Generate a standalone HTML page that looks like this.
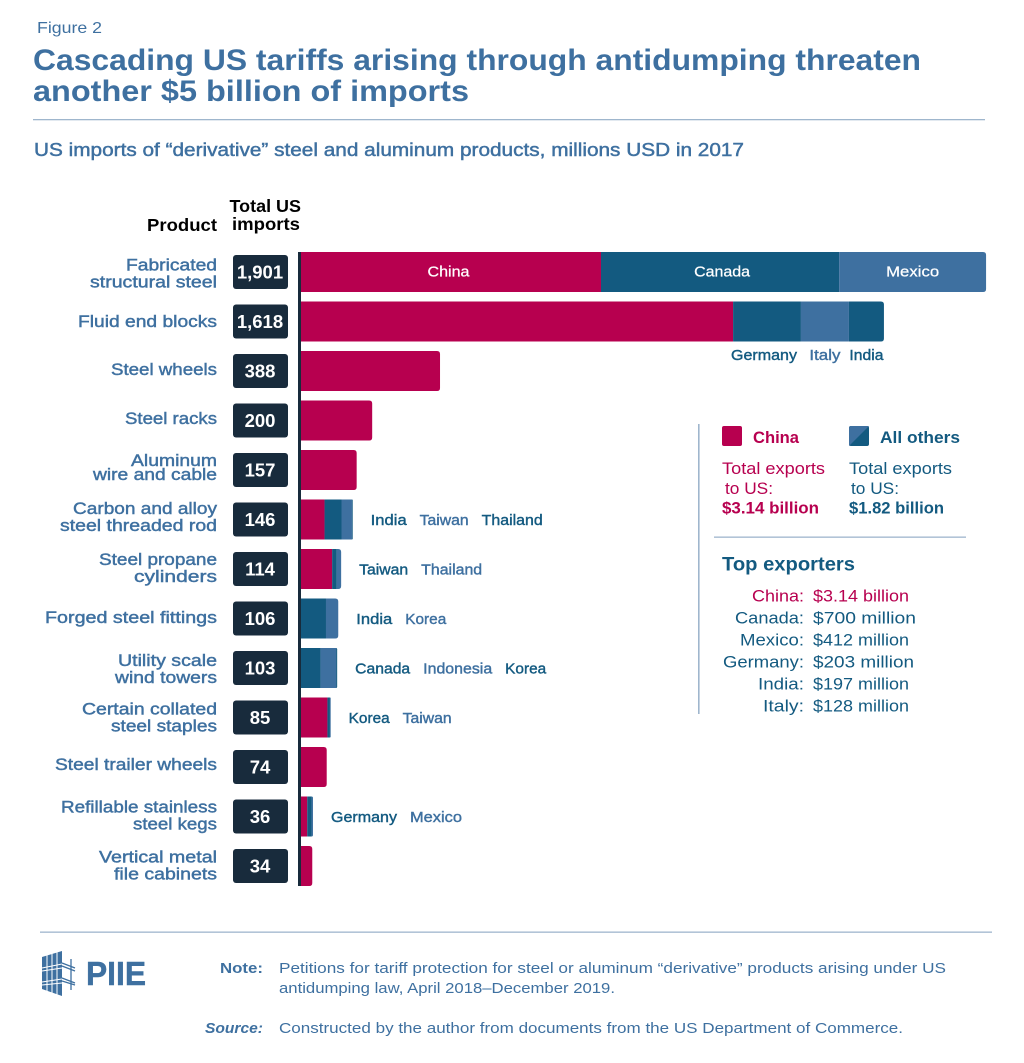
<!DOCTYPE html>
<html lang="en">
<head>
<meta charset="utf-8">
<title>Cascading US tariffs</title>
<style>
html,body{margin:0;padding:0;background:#fff;width:1024px;height:1063px;overflow:hidden}
svg{display:block}
text{font-family:"Liberation Sans",sans-serif}
.blue{fill:#3e70a0}
.dark{fill:#135a80}
.red{fill:#b7004f}
.med{stroke-width:.45;paint-order:stroke}
.blue.med{stroke:#3e70a0}
.dark.med{stroke:#135a80}
.red.med{stroke:#b7004f}
.b{font-weight:700}
.prod{font-size:17px;text-anchor:end}
.list{font-size:16.5px}
.end{text-anchor:end}
.head{font-size:17.5px;font-weight:700;fill:#000}
.foot{font-size:15px}
</style>
</head>
<body>
<svg id="chart" xmlns="http://www.w3.org/2000/svg" width="1024" height="1063" viewBox="0 0 1024 1063">
  <rect width="1024" height="1063" fill="#fff"/>
  <text class="blue" x="37" y="33" font-size="16" textLength="65" lengthAdjust="spacingAndGlyphs">Figure 2</text>
  <text class="blue b" x="33" y="70" font-size="30" textLength="888" lengthAdjust="spacingAndGlyphs">Cascading US tariffs arising through antidumping threaten</text>
  <text class="blue b" x="33" y="101" font-size="30" textLength="436" lengthAdjust="spacingAndGlyphs">another $5 billion of imports</text>
  <rect x="33" y="119" width="952" height="1.3" fill="#9fb6cd"/>
  <text class="blue med" x="34" y="156" font-size="18" textLength="710" lengthAdjust="spacingAndGlyphs">US imports of “derivative” steel and aluminum products, millions USD in 2017</text>

  <text class="head" x="147" y="231" textLength="70" lengthAdjust="spacingAndGlyphs">Product</text>
  <text class="head" x="229.5" y="212" textLength="71.5" lengthAdjust="spacingAndGlyphs">Total US</text>
  <text class="head" x="232" y="230" textLength="68" lengthAdjust="spacingAndGlyphs">imports</text>

  <g>
    <text class="prod blue med" x="217" y="270.5" textLength="91" lengthAdjust="spacingAndGlyphs">Fabricated</text>
    <text class="prod blue med" x="217" y="287.5" textLength="127" lengthAdjust="spacingAndGlyphs">structural steel</text>
    <text class="prod blue med" x="217" y="327" textLength="139" lengthAdjust="spacingAndGlyphs">Fluid end blocks</text>
    <text class="prod blue med" x="217" y="375" textLength="106" lengthAdjust="spacingAndGlyphs">Steel wheels</text>
    <text class="prod blue med" x="217" y="424" textLength="92" lengthAdjust="spacingAndGlyphs">Steel racks</text>
    <text class="prod blue med" x="217" y="466" textLength="86" lengthAdjust="spacingAndGlyphs">Aluminum</text>
    <text class="prod blue med" x="217" y="480" textLength="124" lengthAdjust="spacingAndGlyphs">wire and cable</text>
    <text class="prod blue med" x="217" y="514" textLength="144" lengthAdjust="spacingAndGlyphs">Carbon and alloy</text>
    <text class="prod blue med" x="217" y="531" textLength="157" lengthAdjust="spacingAndGlyphs">steel threaded rod</text>
    <text class="prod blue med" x="217" y="565" textLength="118" lengthAdjust="spacingAndGlyphs">Steel propane</text>
    <text class="prod blue med" x="217" y="582" textLength="83" lengthAdjust="spacingAndGlyphs">cylinders</text>
    <text class="prod blue med" x="217" y="623" textLength="172" lengthAdjust="spacingAndGlyphs">Forged steel fittings</text>
    <text class="prod blue med" x="217" y="666" textLength="99" lengthAdjust="spacingAndGlyphs">Utility scale</text>
    <text class="prod blue med" x="217" y="683" textLength="102" lengthAdjust="spacingAndGlyphs">wind towers</text>
    <text class="prod blue med" x="217" y="714.5" textLength="135" lengthAdjust="spacingAndGlyphs">Certain collated</text>
    <text class="prod blue med" x="217" y="731.5" textLength="106" lengthAdjust="spacingAndGlyphs">steel staples</text>
    <text class="prod blue med" x="217" y="770" textLength="162" lengthAdjust="spacingAndGlyphs">Steel trailer wheels</text>
    <text class="prod blue med" x="217" y="812.5" textLength="156" lengthAdjust="spacingAndGlyphs">Refillable stainless</text>
    <text class="prod blue med" x="217" y="829.5" textLength="84" lengthAdjust="spacingAndGlyphs">steel kegs</text>
    <text class="prod blue med" x="217" y="862.5" textLength="118" lengthAdjust="spacingAndGlyphs">Vertical metal</text>
    <text class="prod blue med" x="217" y="879.5" textLength="103" lengthAdjust="spacingAndGlyphs">file cabinets</text>
  </g>

  <g id="rows"></g>

  <g>
    <rect x="698" y="424" width="1.6" height="290" fill="#9fb6cd"/>
    <rect x="722" y="426" width="20" height="20" rx="2" fill="#b7004f"/>
    <text class="red b" x="753" y="443" font-size="16.5" textLength="46" lengthAdjust="spacingAndGlyphs">China</text>
    <rect x="849" y="426" width="20" height="20" rx="2" fill="#135a80"/>
    <path d="M851 426H869L849 446V428a2 2 0 0 1 2-2z" fill="#3e70a0"/>
    <text class="dark b" x="880" y="443" font-size="16.5" textLength="80" lengthAdjust="spacingAndGlyphs">All others</text>

    <text class="red list" x="722" y="474" textLength="103" lengthAdjust="spacingAndGlyphs">Total exports</text>
    <text class="red list" x="725" y="494" textLength="48" lengthAdjust="spacingAndGlyphs">to US:</text>
    <text class="red b" x="722" y="513.5" font-size="16.5" textLength="97" lengthAdjust="spacingAndGlyphs">$3.14 billion</text>
    <text class="dark list" x="849" y="474" textLength="103" lengthAdjust="spacingAndGlyphs">Total exports</text>
    <text class="dark list" x="851" y="494" textLength="48" lengthAdjust="spacingAndGlyphs">to US:</text>
    <text class="dark b" x="849" y="513.5" font-size="16.5" textLength="95" lengthAdjust="spacingAndGlyphs">$1.82 billion</text>
    <rect x="714" y="536.5" width="252" height="1.3" fill="#9fb6cd"/>

    <text class="dark b" x="722" y="570.5" font-size="19" textLength="133" lengthAdjust="spacingAndGlyphs">Top exporters</text>
    <text class="list end red" x="804" y="601.5" textLength="52" lengthAdjust="spacingAndGlyphs">China:</text>
    <text class="list red" x="813" y="601.5" textLength="96" lengthAdjust="spacingAndGlyphs">$3.14 billion</text>
    <text class="list end dark" x="804" y="623.5" textLength="69" lengthAdjust="spacingAndGlyphs">Canada:</text>
    <text class="list dark" x="813" y="623.5" textLength="103" lengthAdjust="spacingAndGlyphs">$700 million</text>
    <text class="list end dark" x="804" y="645.5" textLength="64" lengthAdjust="spacingAndGlyphs">Mexico:</text>
    <text class="list dark" x="813" y="645.5" textLength="96" lengthAdjust="spacingAndGlyphs">$412 million</text>
    <text class="list end dark" x="804" y="667.5" textLength="81" lengthAdjust="spacingAndGlyphs">Germany:</text>
    <text class="list dark" x="813" y="667.5" textLength="101" lengthAdjust="spacingAndGlyphs">$203 million</text>
    <text class="list end dark" x="804" y="689.5" textLength="46" lengthAdjust="spacingAndGlyphs">India:</text>
    <text class="list dark" x="813" y="689.5" textLength="96" lengthAdjust="spacingAndGlyphs">$197 million</text>
    <text class="list end dark" x="804" y="711.5" textLength="41" lengthAdjust="spacingAndGlyphs">Italy:</text>
    <text class="list dark" x="813" y="711.5" textLength="96" lengthAdjust="spacingAndGlyphs">$128 million</text>
  </g>

  <rect x="40" y="931.5" width="952" height="1.3" fill="#9fb6cd"/>
  <g>
    <polygon points="42,957 62,951 62,996 42,989" fill="#3e70a0"/>
    <g stroke="#fff" stroke-width="1">
      <line x1="47" y1="953" x2="47" y2="993"/>
      <line x1="52" y1="951" x2="52" y2="995"/>
      <line x1="57" y1="951" x2="57" y2="996"/>
      <line x1="42" y1="968" x2="62" y2="964"/>
      <line x1="42" y1="971" x2="62" y2="968"/>
      <line x1="42" y1="982" x2="62" y2="979"/>
      <line x1="42" y1="985" x2="62" y2="983"/>
    </g>
    <g stroke="#3e70a0" stroke-width="1.3">
      <line x1="71" y1="959" x2="71" y2="990"/>
      <line x1="62" y1="963" x2="75" y2="968"/>
      <line x1="62" y1="966" x2="75" y2="971"/>
      <line x1="62" y1="978" x2="75" y2="983"/>
      <line x1="62" y1="981" x2="75" y2="985"/>
    </g>
    <text class="blue b med" x="86" y="985" font-size="33" textLength="60" lengthAdjust="spacingAndGlyphs">PIIE</text>
  </g>
  <text class="blue b foot" x="220" y="973" textLength="43" lengthAdjust="spacingAndGlyphs">Note:</text>
  <text class="blue foot" x="279" y="973" textLength="667" lengthAdjust="spacingAndGlyphs">Petitions for tariff protection for steel or aluminum “derivative” products arising under US</text>
  <text class="blue foot" x="279" y="993" textLength="336" lengthAdjust="spacingAndGlyphs">antidumping law, April 2018–December 2019.</text>
  <text class="blue b foot" font-style="italic" x="205" y="1033" textLength="58" lengthAdjust="spacingAndGlyphs">Source:</text>
  <text class="blue foot" x="279" y="1033" textLength="624" lengthAdjust="spacingAndGlyphs">Constructed by the author from documents from the US Department of Commerce.</text>
</svg>
<script>
const totals = ["1,901","1,618","388","200","157","146","114","106","103","85","74","36","34"];
const rowCountries = [
  ["China","Canada","Mexico"],
  ["China","Germany","Italy","India"],
  ["China"],
  ["China"],
  ["China"],
  ["China","India","Taiwan","Thailand"],
  ["China","Taiwan","Thailand"],
  ["India","Korea"],
  ["Canada","Indonesia","Korea"],
  ["China","Korea","Taiwan"],
  ["China"],
  ["China","Germany","Mexico"],
  ["China"]
];
const rowValues = [
  [834,660,407],
  [1200,188,133,97],
  [388],
  [200],
  [157],
  [68,47,29,2],
  [89,13,12],
  [72,34],
  [57,43,3],
  [76,7,2],
  [74],
  [20,12,4],
  [34]
];

const svgNS = "http://www.w3.org/2000/svg";
const rowsG = document.getElementById("rows");
const CRIMSON = "#b7004f", DARK = "#135a80", LIGHT = "#3e70a0", BADGE = "#182b3c";
const labelWidths = {India:36,Taiwan:49,Thailand:61,Korea:41,Canada:55,Indonesia:69,Germany:66,Mexico:52,China:42,Italy:31};
const xScale = v => 300 + v * 0.3609;
const rowCenter = i => 272 + i * 49.5;

function make(tag, attrs, parent) {
  const el = document.createElementNS(svgNS, tag);
  for (const k in attrs) el.setAttribute(k, attrs[k]);
  parent.appendChild(el);
  return el;
}

function addLabel(parent, name, x, y, width, fill, anchor) {
  const t = make("text", {x:x, y:y, fill:fill, stroke:fill, "stroke-width":0.4, "font-size":15, "text-anchor":anchor, textLength:width, lengthAdjust:"spacingAndGlyphs"}, parent);
  
  
  t.textContent = name;
  return t;
}

rowValues.forEach((vals, i) => {
  const c = rowCenter(i);
  const group = make("g", {}, rowsG);
  
  

  const badge = make("rect", {x:233, y:c-17, width:55, height:34, rx:3, fill:BADGE}, group);
  
  
  const val = make("text", {x:260, y:c+6.5, fill:"#fff", "font-size":18.5, "font-weight":700, "text-anchor":"middle"}, group);
  
  
  val.textContent = totals[i];

  let cum = 0, shadeDark = true;
  const spans = [];
  vals.forEach((v, j) => {
    const x0 = xScale(cum), x1 = xScale(cum + v);
    const country = rowCountries[i][j];
    let fill;
    if (country === "China") { fill = CRIMSON; }
    else { fill = shadeDark ? DARK : LIGHT; shadeDark = !shadeDark; }
    const top = c - 20, bot = c + 20, last = j === vals.length - 1, r = Math.min(3, x1 - x0);
    const d = last
      ? `M${x0} ${top}H${x1-r}Q${x1} ${top} ${x1} ${top+r}V${bot-r}Q${x1} ${bot} ${x1-r} ${bot}H${x0}Z`
      : `M${x0} ${top}H${x1}V${bot}H${x0}Z`;
    const seg = make("path", {d:d, fill:fill}, group);
    
    
    spans.push({country, x0, x1, fill});
    cum += v;
  });

  if (i === 0) {
    spans.forEach(s => {
      const t = make("text", {x:(s.x0+s.x1)/2 + (s.country==="Canada"?2:(s.country==="China"?-2:0)), y:c+4.5, fill:"#fff", stroke:"#fff", "stroke-width":0.25, "font-size":15, "text-anchor":"middle", textLength:labelWidths[s.country]+(s.country==="Mexico"?1:(s.country==="Canada"?1:0)), lengthAdjust:"spacingAndGlyphs"}, group);
      
      
      t.textContent = s.country;
    });
  } else if (i === 1) {
    spans.slice(1).forEach(s => {
      const w = s.country === "India" ? 34 : labelWidths[s.country];
      addLabel(group, s.country, (s.x0+s.x1)/2 - (s.country==="Germany"?3:0), c+38.5, w, s.fill, "middle");
    });
  } else if (spans.length > 1) {
    let x = spans[spans.length-1].x1 + 18;
    spans.filter(s => s.country !== "China").forEach(s => {
      addLabel(group, s.country, x, c+5.5, labelWidths[s.country], s.fill, "start");
      x += labelWidths[s.country] + 13;
    });
  }
});

const axis = make("rect", {x:298, y:252, width:3, height:634, fill:BADGE}, rowsG);


</script>
</body>
</html>
